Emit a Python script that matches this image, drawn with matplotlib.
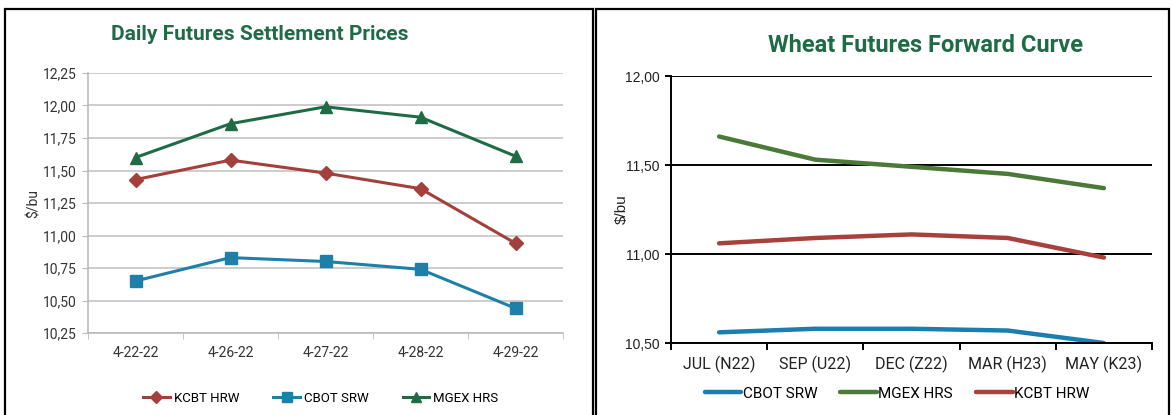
import matplotlib
matplotlib.use("Agg")
import matplotlib.pyplot as plt
from matplotlib.patches import Rectangle

# daily settlement data (left chart)
dates = ["4-22-22", "4-26-22", "4-27-22", "4-28-22", "4-29-22"]
kcbt_daily = [11.43, 11.58, 11.48, 11.36, 10.94]
cbot_daily = [10.65, 10.83, 10.80, 10.74, 10.44]
mgex_daily = [11.60, 11.86, 11.99, 11.91, 11.61]

# forward curve data (right chart)
contracts = ["JUL (N22)", "SEP (U22)", "DEC (Z22)", "MAR (H23)", "MAY (K23)"]
cbot_fwd = [10.56, 10.58, 10.58, 10.57, 10.50]
mgex_fwd = [11.66, 11.53, 11.49, 11.45, 11.37]
kcbt_fwd = [11.06, 11.09, 11.11, 11.09, 10.98]

narrow = ["Liberation Sans Narrow", "Roboto", "DejaVu Sans"]
arial = ["Liberation Sans", "DejaVu Sans"]
title_green = "#1f6b46"
red = "#a3403b"
blue = "#1e80a8"
green = "#1f6b46"
olive = "#4b7a38"

W, H = 1172, 415
fig = plt.figure(figsize=(W / 100, H / 100), dpi=100)


def fx(px):
    return px / W


def fy(py):
    return 1 - py / H


# panel frames
fig.patches.append(Rectangle((fx(5), fy(420)), fx(588), fy(9) - fy(420),
                             transform=fig.transFigure, fill=False, lw=1.6, ec="black"))
fig.patches.append(Rectangle((fx(596), fy(420)), fx(573), fy(9) - fy(420),
                             transform=fig.transFigure, fill=False, lw=1.6, ec="black"))

# ---------- left chart ----------
ax1 = fig.add_axes([fx(88), fy(333), fx(563 - 88), fy(73) - fy(333)])
x = range(len(dates))
ax1.plot(x, kcbt_daily, color=red, lw=2.2, marker="D", ms=7, label="KCBT HRW")
ax1.plot(x, cbot_daily, color=blue, lw=2.2, marker="s", ms=9, label="CBOT SRW")
ax1.plot(x, mgex_daily, color=green, lw=2.2, marker="^", ms=9, label="MGEX HRS")
ax1.set_xlim(-0.5, 4.5)
ax1.set_ylim(10.25, 12.25)
ax1.set_yticks([10.25 + 0.25 * i for i in range(9)])
ax1.set_yticklabels([f"{10.25 + 0.25 * i:.2f}".replace(".", ",") for i in range(9)],
                    family=narrow, fontsize=10, color="#333333")
ax1.set_xticks(list(x))
ax1.set_xticklabels(dates, family=narrow, fontsize=10, color="#333333")
ax1.set_xticks([i - 0.5 for i in range(6)], minor=True)
ax1.tick_params(axis="x", which="major", length=0, pad=9)
ax1.tick_params(axis="x", which="minor", length=4, color="#bbbbbb")
ax1.tick_params(axis="y", length=4, color="#bbbbbb", pad=4)
ax1.grid(axis="y", color="#c8c8c8", lw=1.3)
ax1.set_axisbelow(True)
for s in ["top", "right"]:
    ax1.spines[s].set_visible(False)
for s in ["left", "bottom"]:
    ax1.spines[s].set_color("#bbbbbb")
    ax1.spines[s].set_linewidth(1.2)
ax1.set_ylabel("$/bu", family=narrow, fontsize=10, color="#333333", labelpad=2)
ax1.legend(loc="center", bbox_to_anchor=(0.49, -0.25), ncol=3, frameon=False,
           prop={"family": narrow, "size": 9.5}, handlelength=2.0,
           columnspacing=2.6, handletextpad=0.3, markerscale=0.85)
fig.text(fx(260), fy(35), "Daily Futures Settlement Prices", ha="center", va="center",
         family=narrow, fontweight="bold", fontsize=15, color=title_green)

# ---------- right chart ----------
ax2 = fig.add_axes([fx(671), fy(343), fx(1152 - 671), fy(76) - fy(343)])
ax2.plot(x, cbot_fwd, color="#1a7fb0", lw=3.2, solid_capstyle="round", label="CBOT SRW")
ax2.plot(x, mgex_fwd, color=olive, lw=3.2, solid_capstyle="round", label="MGEX HRS")
ax2.plot(x, kcbt_fwd, color="#a8403c", lw=3.2, solid_capstyle="round", label="KCBT HRW")
ax2.set_xlim(-0.5, 4.5)
ax2.set_ylim(10.5, 12.0)
ax2.set_yticks([10.5, 11.0, 11.5, 12.0])
ax2.set_yticklabels(["10,50", "11,00", "11,50", "12,00"], family=arial, fontsize=10,
                    color="#222222")
ax2.set_xticks(list(x))
ax2.set_xticklabels(contracts, family=narrow, fontsize=11.5, color="#222222")
ax2.set_xticks([i - 0.5 for i in range(6)], minor=True)
ax2.tick_params(axis="x", which="major", length=0, pad=9)
ax2.tick_params(axis="x", which="minor", length=5, width=1.4, color="black")
ax2.tick_params(axis="y", length=4, width=1.4, color="black", pad=4)
ax2.grid(axis="y", color="black", lw=1.4)
ax2.set_axisbelow(True)
for s in ["top", "right"]:
    ax2.spines[s].set_visible(False)
for s in ["left", "bottom"]:
    ax2.spines[s].set_linewidth(1.4)
ax2.set_ylabel("$/bu", family=arial, fontsize=11, color="#222222", labelpad=-3)
ax2.legend(loc="center", bbox_to_anchor=(0.47, -0.19), ncol=3, frameon=False,
           prop={"family": narrow, "size": 11}, handlelength=2.4, columnspacing=1.5,
           handletextpad=0.1)
fig.text(fx(925), fy(45), "Wheat Futures Forward Curve", ha="center", va="center",
         family=narrow, fontweight="bold", fontsize=17, color=title_green)

fig.savefig("out.png", dpi=100)
